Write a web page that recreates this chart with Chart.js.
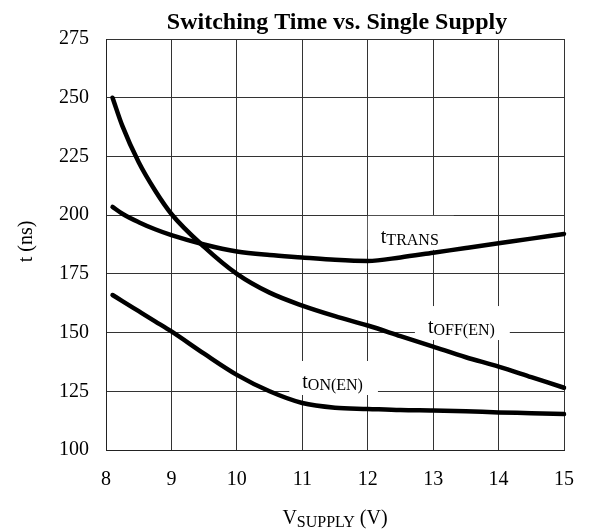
<!DOCTYPE html>
<html>
<head>
<meta charset="utf-8">
<script src="https://cdn.jsdelivr.net/npm/chart.js@4.4.0/dist/chart.umd.min.js"></script>
<style>
    html, body { margin: 0; padding: 0; background: #fff; }
</style>
</head>
<body>
<canvas id="switchChart" width="592" height="529"></canvas>
<script>
// Supply voltage (V) sample points
const supplyVolts = [8.1, 8.25, 8.5, 8.75, 9, 9.5, 10, 10.5, 11, 11.5, 12, 12.5, 13, 13.5, 14, 14.5, 15];

// Switching times in ns
const tOffEn  = [250, 238, 222.5, 210.5, 200.5, 186.5, 175, 167, 161.5, 157, 153, 148.5, 144, 139.5, 135.5, 131, 126.5];
const tTrans  = [203.5, 200.6, 197, 194, 191.5, 187.5, 184.5, 183, 182, 181, 180.5, 182, 184, 186, 188, 190, 192];
const tOnEn   = [166, 163.4, 159.1, 154.8, 150.5, 141, 132, 125, 120, 118, 117.5, 117, 116.8, 116.5, 116, 115.7, 115.3];

const xTicks = [8, 9, 10, 11, 12, 13, 14, 15];
const yTicks = [100, 125, 150, 175, 200, 225, 250, 275];

// curve names: main letter + subscript
const curveNames = [['t', 'TRANS'], ['t', 'OFF(EN)'], ['t', 'ON(EN)']];

const FONT = '"Liberation Serif", "Times New Roman", serif';

function toPoints(values) {
    return supplyVolts.map(function(v, i) { return { x: v, y: values[i] }; });
}

// draws "main" + lowered smaller subscript, returns total width
function drawSubText(ctx, x, y, main, sub, mainSize, subSize, drop, tail) {
    ctx.font = mainSize + 'px ' + FONT;
    ctx.fillText(main, x, y);
    let w = ctx.measureText(main).width;
    ctx.font = subSize + 'px ' + FONT;
    ctx.fillText(sub, x + w, y + drop);
    w += ctx.measureText(sub).width;
    if (tail) {
        ctx.font = mainSize + 'px ' + FONT;
        ctx.fillText(tail, x + w, y);
        w += ctx.measureText(tail).width;
    }
    return w;
}

function measureSubText(ctx, main, sub, mainSize, subSize, tail) {
    ctx.font = mainSize + 'px ' + FONT;
    let w = ctx.measureText(main).width + (tail ? ctx.measureText(tail).width : 0);
    ctx.font = subSize + 'px ' + FONT;
    return w + ctx.measureText(sub).width;
}

const curveLabelPlugin = {
    id: 'curveLabels',
    beforeDatasetsDraw: function(chart) {
        const ctx = chart.ctx;
        const xs = chart.scales.x, ys = chart.scales.y;
        // label anchors: left edge of text / baseline, in data units
        const spots = [{ x: 12.2, y: 188.2 }, { x: 12.92, y: 149.8 }, { x: 11.0, y: 126.4 }];
        ctx.save();
        ctx.textBaseline = 'alphabetic';
        ctx.textAlign = 'left';
        curveNames.forEach(function(name, i) {
            const px = xs.getPixelForValue(spots[i].x);
            const py = ys.getPixelForValue(spots[i].y);
            const w = measureSubText(ctx, name[0], name[1], 20, 16);
            ctx.fillStyle = '#fff';
            ctx.fillRect(px - 13, py - 27, w + 28, 34);
            ctx.fillStyle = '#000';
            drawSubText(ctx, px, py, name[0], name[1], 20, 16, 2);
        });
        ctx.restore();
    },
    afterDraw: function(chart) {
        const ctx = chart.ctx;
        const area = chart.chartArea;
        const cx = (area.left + area.right) / 2;
        ctx.save();
        ctx.fillStyle = '#000';
        ctx.textBaseline = 'alphabetic';

        // chart title
        ctx.font = 'bold 24px ' + FONT;
        ctx.textAlign = 'center';
        ctx.fillText('Switching Time vs. Single Supply', cx + 2, 29);

        // x axis title with subscript
        ctx.textAlign = 'left';
        const w = measureSubText(ctx, 'V', 'SUPPLY', 20, 16, ' (V)');
        drawSubText(ctx, cx - w / 2, 524, 'V', 'SUPPLY', 20, 16, 3, ' (V)');

        // y axis title
        ctx.translate(27, (area.top + area.bottom) / 2 - 3);
        ctx.rotate(-Math.PI / 2);
        ctx.textAlign = 'center';
        ctx.textBaseline = 'middle';
        ctx.font = '20px ' + FONT;
        ctx.fillText('t (ns)', 0, 0);
        ctx.restore();
    }
};

const lineStyle = {
    borderColor: '#000',
    borderWidth: 4.5,
    pointRadius: 0,
    fill: false,
    cubicInterpolationMode: 'monotone',
    borderCapStyle: 'round',
    borderJoinStyle: 'round',
    clip: false
};

const ctx = document.getElementById('switchChart').getContext('2d');
new Chart(ctx, {
    type: 'line',
    data: {
        datasets: [
            Object.assign({ label: 'tOFF(EN)', data: toPoints(tOffEn) }, lineStyle),
            Object.assign({ label: 'tTRANS', data: toPoints(tTrans) }, lineStyle),
            Object.assign({ label: 'tON(EN)', data: toPoints(tOnEn) }, lineStyle)
        ]
    },
    options: {
        responsive: false,
        animation: false,
        layout: { padding: { top: 39, right: 24, left: 0, bottom: 0 } },
        plugins: {
            legend: { display: false },
            tooltip: { enabled: false },
            title: { display: false }
        },
        scales: {
            x: {
                type: 'linear',
                min: 8,
                max: 15,
                afterFit: function(scale) { scale.height = 79; },
                afterBuildTicks: function(scale) {
                    scale.ticks = xTicks.map(function(v) { return { value: v }; });
                },
                grid: { color: '#333', lineWidth: 1, drawTicks: false },
                border: { color: '#222', width: 1 },
                ticks: {
                    padding: 18,
                    color: '#000',
                    font: { family: FONT, size: 20 }
                }
            },
            y: {
                type: 'linear',
                min: 100,
                max: 275,
                afterFit: function(scale) { scale.width = 106; },
                afterBuildTicks: function(scale) {
                    scale.ticks = yTicks.map(function(v) { return { value: v }; });
                },
                grid: { color: '#333', lineWidth: 1, drawTicks: false },
                border: { color: '#222', width: 1 },
                ticks: {
                    padding: 17,
                    color: '#000',
                    font: { family: FONT, size: 20 }
                }
            }
        }
    },
    plugins: [curveLabelPlugin]
});
</script>
</body>
</html>
